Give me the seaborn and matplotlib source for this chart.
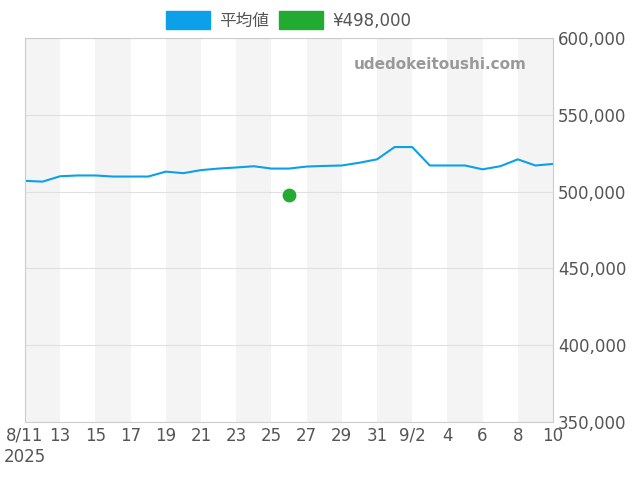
import pandas as pd
import seaborn as sns
import matplotlib.pyplot as plt
from matplotlib.patches import Patch

dates = pd.date_range('2025-08-11', '2025-09-10', freq='D')
avg_price = [507000, 506500, 510000, 510500, 510500, 509800, 509800, 509800, 513000, 512000,
             514000, 515000, 515700, 516500, 515000, 515000, 516300, 516700, 517000, 518800,
             521000, 529000, 529000, 517000, 517000, 517000, 514500, 516500, 521000, 517000,
             518000]
point_date = pd.Timestamp('2025-08-26')
point_price = 498000
tick_labels = ['8/11\n2025', '13', '15', '17', '19', '21', '23', '25', '27', '29', '31',
               '9/2', '4', '6', '8', '10']

df = pd.DataFrame({'date': dates, 'price': avg_price})

sns.set_style('white')
plt.rcParams['font.family'] = ['DejaVu Sans', 'Noto Sans CJK JP']

fig = plt.figure(figsize=(6.4, 4.8), dpi=100)
ax = fig.add_axes([25 / 640, 58 / 480, 528 / 640, 384 / 480])

# alternating 2-day bands
for i in range(0, 30, 4):
    ax.axvspan(dates[i], dates[min(i + 2, 30)], color='#f4f4f4', lw=0, zorder=0)

sns.lineplot(data=df, x='date', y='price', ax=ax, color='#0ba0e8', linewidth=1.5, legend=False)
ax.scatter([point_date], [point_price], color='#22aa33', s=80, zorder=5)

ax.set_xlim(dates[0], dates[-1])
ax.set_ylim(350000, 600000)
ax.yaxis.tick_right()
ax.set_yticks(range(350000, 600001, 50000))
ax.set_yticklabels([f'{v:,}' for v in range(350000, 600001, 50000)])
ticks = [dates[0] + pd.Timedelta(days=2 * i) for i in range(16)]
ax.set_xticks(ticks)
ax.set_xticklabels(tick_labels)
ax.tick_params(labelsize=12, colors='#555555', length=0)
ax.grid(axis='y', color='#e0e0e0', linewidth=0.8)
ax.set_axisbelow(True)
ax.set_xlabel('')
ax.set_ylabel('')
for s in ax.spines.values():
    s.set_color('#cccccc')

ax.text(0.95, 0.93, 'udedokeitoushi.com', transform=ax.transAxes, ha='right', va='center',
        fontsize=11, fontweight='bold', color='#999999')

ax.legend(handles=[Patch(color='#0ba0e8', label='平均値'), Patch(color='#22aa33', label='¥498,000')],
          loc='lower center', bbox_to_anchor=(0.5, 1.0), ncol=2, frameon=False,
          fontsize=12, handlelength=2.6, handleheight=1.3, borderaxespad=0.1,
          handletextpad=0.6, columnspacing=0.6, labelcolor='#555555')

fig.savefig('out.png', dpi=100)
